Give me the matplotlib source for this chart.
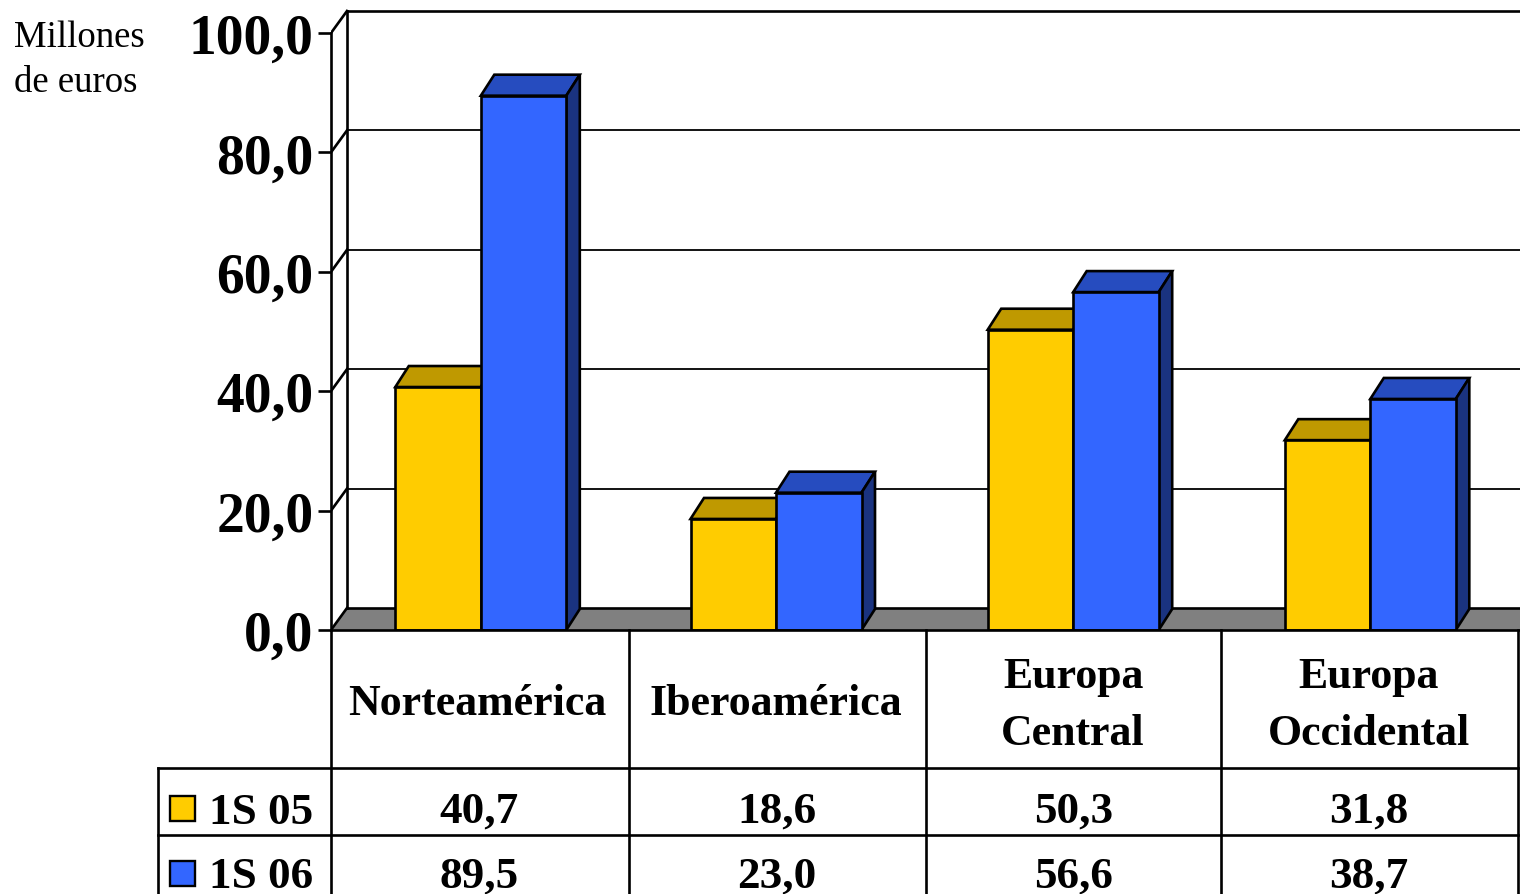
import matplotlib
matplotlib.use("Agg")
import matplotlib.pyplot as plt
from matplotlib.lines import Line2D
from matplotlib.patches import Polygon, Rectangle

categories = ["Norteamérica", "Iberoamérica", "Europa\nCentral", "Europa\nOccidental"]
series_names = ["1S 05", "1S 06"]
values_05 = [40.7, 18.6, 50.3, 31.8]
values_06 = [89.5, 23.0, 56.6, 38.7]
value_labels_05 = ["40,7", "18,6", "50,3", "31,8"]
value_labels_06 = ["89,5", "23,0", "56,6", "38,7"]
yticks = [0, 20, 40, 60, 80, 100]

W, H = 1520, 895
FRONT = "#FFCC00"
FRONT_TOP = "#BF9900"
BLUE = "#3366FF"
BLUE_TOP = "#264CBF"
BLUE_SIDE = "#1A3380"
FLOOR = "#808080"
LW = 1.9
FONT = "Liberation Serif"

plt.rcParams["font.family"] = FONT

fig = plt.figure(figsize=(W / 100, H / 100), dpi=100)

# axes: x in categories, y in chart value, origin at the front floor corner
left, base = 331, 631
cat_px, val_px = 297.0, 5.97
ax = fig.add_axes([left / W, (H - base) / H, (W - left) / W, base / H])
ax.set_xlim(0, (W - left) / cat_px)
ax.set_ylim(0, base / val_px)
ax.patch.set_visible(False)
for s in ["top", "right"]:
    ax.spines[s].set_visible(False)
ax.spines["left"].set_bounds(0, 100)
ax.spines["left"].set_linewidth(LW)
ax.spines["bottom"].set_linewidth(LW)
ax.spines["bottom"].set_zorder(6)
ax.set_xticks([])
ax.set_yticks(yticks)
ax.set_yticklabels(["%d,0" % t for t in yticks], fontsize=40, fontweight="bold")
ax.tick_params(axis="y", length=9.5, width=LW, pad=3)

# depth of the wall and of the bars, in axis units
wall_dx, wall_dy = 16 / cat_px, 22 / val_px
bar_dx, bar_dy = 13.5 / cat_px, 21 / val_px
xmax = ax.get_xlim()[1]

ax.add_patch(Polygon([(0, 0), (wall_dx, wall_dy), (xmax, wall_dy), (xmax, 0)],
                     facecolor=FLOOR, edgecolor="none", zorder=1, clip_on=False))
ax.plot([wall_dx, wall_dx], [wall_dy, 100 + wall_dy], color="black", lw=LW, zorder=2)
for t in yticks:
    ax.plot([wall_dx, xmax], [t + wall_dy, t + wall_dy], color="black", lw=LW if t in (0, 100) else 1.3, zorder=2)
    ax.plot([0, wall_dx], [t, t + wall_dy], color="black", lw=LW, zorder=2)

bar_w = 85.5 / cat_px
# the reference rounds each group to slightly different spots
group_mid = [(480.8 - left) / cat_px, (776 - left) / cat_px, (1073.2 - left) / cat_px, (1370.3 - left) / cat_px]


def draw_bar(x, v, front, top, side):
    ax.bar(x, v, bar_w, align="edge", color=front, edgecolor="black", linewidth=LW, zorder=4)
    ax.add_patch(Polygon([(x, v), (x + bar_dx, v + bar_dy), (x + bar_w + bar_dx, v + bar_dy), (x + bar_w, v)],
                         facecolor=top, edgecolor="black", linewidth=LW, zorder=3))
    ax.add_patch(Polygon([(x + bar_w, 0), (x + bar_w + bar_dx, bar_dy), (x + bar_w + bar_dx, v + bar_dy), (x + bar_w, v)],
                         facecolor=side, edgecolor="black", linewidth=LW, zorder=3))


for i in range(len(categories)):
    mid = group_mid[i]
    draw_bar(mid - bar_w, values_05[i], FRONT, FRONT_TOP, FRONT_TOP)
    draw_bar(mid, values_06[i], BLUE, BLUE_TOP, BLUE_SIDE)


# table below the chart, placed in figure pixels
def fx(x):
    return x / W


def fy(y):
    return 1 - y / H


def table_line(x0, y0, x1, y1):
    fig.add_artist(Line2D([fx(x0), fx(x1)], [fy(y0), fy(y1)], color="black", lw=LW))


col_edges = [331, 629, 926, 1221, 1518]
row_tops = [768.5, 835.5]
label_x = [477, 775.5, 1073, 1368.5]
value_x = [479, 776.5, 1073.5, 1368.5]
for x in col_edges:
    table_line(x, base, x, H)
table_line(158, row_tops[0], 158, H)
for y in row_tops:
    table_line(158, y, col_edges[-1], y)

for i, name in enumerate(categories):
    lines = name.split("\n")
    baselines = [715] if len(lines) == 1 else [688, 745]
    for txt, yb in zip(lines, baselines):
        fig.text(fx(label_x[i]), fy(yb), txt, ha="center", va="baseline", fontsize=31.6, fontweight="bold")
    fig.text(fx(value_x[i]), fy(822.5), value_labels_05[i], ha="center", va="baseline", fontsize=32.5, fontweight="bold")
    fig.text(fx(value_x[i]), fy(888), value_labels_06[i], ha="center", va="baseline", fontsize=32.5, fontweight="bold")

for name, color, sw_top, yb in zip(series_names, [FRONT, BLUE], [797, 862], [824, 888]):
    fig.add_artist(Rectangle((fx(170), fy(sw_top + 25)), 25 / W, 25 / H, transform=fig.transFigure,
                             facecolor=color, edgecolor="black", linewidth=1.7))
    fig.text(fx(209), fy(yb), name, ha="left", va="baseline", fontsize=32.5, fontweight="bold")

fig.text(fx(14), fy(47), "Millones", ha="left", va="baseline", fontsize=26.5)
fig.text(fx(14), fy(92), "de euros", ha="left", va="baseline", fontsize=26.5)

fig.savefig("out.png", dpi=100)
